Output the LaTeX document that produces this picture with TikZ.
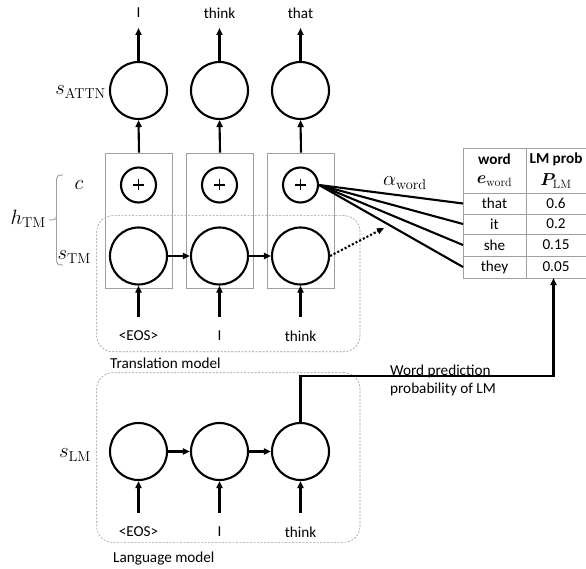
\documentclass[tikz,border=0pt]{standalone}
\usepackage{amsmath}
\usepackage{bm}
\usepackage[no-math]{fontspec}
\setmainfont{Carlito}
\usetikzlibrary{arrows.meta}
\begin{document}
\begin{tikzpicture}[x=1pt,y=-1pt,
  cell/.style={circle,draw,line width=2.1pt,minimum size=57pt,inner sep=0pt},
  pluscell/.style={circle,draw,line width=2.1pt,minimum size=35pt,inner sep=0pt},
  arr/.style={line width=2.1pt,-{Triangle[length=7pt,width=6pt]}},
  conn/.style={line width=2.1pt},
  wbox/.style={draw=gray!75,line width=0.9pt,inner sep=0pt},
  dbox/.style={draw=gray!80,line width=0.6pt,rounded corners=16pt,dash pattern=on 2pt off 1.5pt,inner sep=0pt},
  txt/.style={font=\fontsize{15.2}{18}\selectfont,inner sep=0pt},
  mlab/.style={font=\fontsize{19.5}{22}\selectfont,inner sep=0pt},
  tline/.style={draw=gray!75,line width=0.9pt},
]
\useasboundingbox (0,0) rectangle (586,569);

% dashed model boxes
\node[dbox,minimum width=263.3pt,minimum height=136pt] (tmbox) at (228.35,283.7) {};
\node[dbox,minimum width=263.3pt,minimum height=169.6pt] (lmbox) at (228.35,457.5) {};
\node[txt,anchor=west] (tmlab) at (110,363) {Translation model};
\node[txt,anchor=west] (lmlab) at (113,559) {Language model};

% columns
\foreach \i/\x/\top/\inp in {1/138.5/I/\textless EOS\textgreater, 2/219.5/think/I, 3/300.5/that/think} {
  \node[wbox,minimum width=67pt,minimum height=135pt] (b\i) at (\x+0.5,220.5) {};
  \node[cell] (a\i) at (\x,90.5) {};
  \node[pluscell] (p\i) at (\x,185) {};
  \draw[line width=1.6pt] ([xshift=-5.5pt]p\i.center) -- ([xshift=5.5pt]p\i.center)
        ([yshift=-5.5pt]p\i.center) -- ([yshift=5.5pt]p\i.center);
  \node[cell] (t\i) at (\x,256) {};
  \node[cell] (l\i) at (\x,451.5) {};
  \node[txt] (o\i) at (\x,13) {\top};
  \coordinate (ot\i) at (\x,28);
  \draw[arr] (a\i) -- (ot\i);
  \draw[arr] (b\i.north) -- (a\i.south);
  \node[txt] (e\i) at (\x,336) {\inp};
  \coordinate (ti\i) at (\x,317);
  \draw[arr] (ti\i) -- (t\i.south);
  \node[txt] (f\i) at (\x,532) {\inp};
  \coordinate (li\i) at (\x,513);
  \draw[arr] (li\i) -- (l\i.south);
}
\draw[arr] (t1.east) -- (t2.west);
\draw[arr] (t2.east) -- (t3.west);
\draw[arr] (l1.east) -- (l2.west);
\draw[arr] (l2.east) -- (l3.west);

% labels on the left
\node[mlab,anchor=east] (sattn) at (106,92) {$s_{\mathrm{ATTN}}$};
\node[mlab] (clab) at (79,185) {$c$};
\node[mlab,anchor=east] (stm) at (91,257) {$s_{\mathrm{TM}}$};
\node[mlab,anchor=east] (htm) at (46,219) {$h_{\mathrm{TM}}$};
\node[mlab,anchor=east] (slm) at (91,455) {$s_{\mathrm{LM}}$};
\draw[draw=gray!75,line width=0.9pt]
  (63,175) .. controls (58,175) and (56.5,176) .. (56.5,179) -- (56.5,216)
  .. controls (56.5,219) and (55,220) .. (49,220)
  (56.5,216) .. controls (56.5,219) and (56.5,220) .. (56.5,223) -- (56.5,261)
  .. controls (56.5,264) and (58,265) .. (63,265);

% table
\draw[tline] (463,148) rectangle (592,278);
\draw[tline] (526,148) -- (526,278);
\foreach \yy in {193,214,234,256} { \draw[tline] (463,\yy) -- (592,\yy); }
\node[txt,font=\fontsize{15.2}{18}\selectfont\bfseries] (hw) at (494.5,159) {word};
\node[txt,font=\fontsize{15.2}{18}\selectfont\bfseries] (hp) at (556,159) {LM prob};
\node[mlab,font=\fontsize{18}{20}\selectfont] (he) at (494.5,181) {$\bm{e}_{\mathrm{word}}$};
\node[mlab,font=\fontsize{18}{20}\selectfont] (hpl) at (556,181) {$\bm{P}_{\mathrm{LM}}$};
\foreach \j/\w/\pr/\yy in {1/that/0.6/203.5, 2/it/0.2/224, 3/she/0.15/245, 4/they/0.05/267} {
  \node[txt] (w\j) at (494.5,\yy) {\w};
  \node[txt] (v\j) at (556,\yy) {\pr};
  \coordinate (rw\j) at (463,\yy);
  \draw[conn] (p3.east) -- (rw\j);
}
\node[mlab] (alab) at (405,183) {$\alpha_{\mathrm{word}}$};

% dotted arrow
\coordinate (dt) at (384,228);
\draw[line width=2.1pt,dotted,-{Triangle[length=7pt,width=6pt]}] (t3.east) -- (dt);

% LM prediction line
\coordinate (lmb) at (553.5,278);
\draw[conn,-{Triangle[length=7pt,width=6pt]}] (l3.north) |- (300.5,376) -| (lmb);
\node[txt,anchor=west,align=left] (wp) at (390,380) {Word prediction\\probability of LM};
\end{tikzpicture}
\end{document}
